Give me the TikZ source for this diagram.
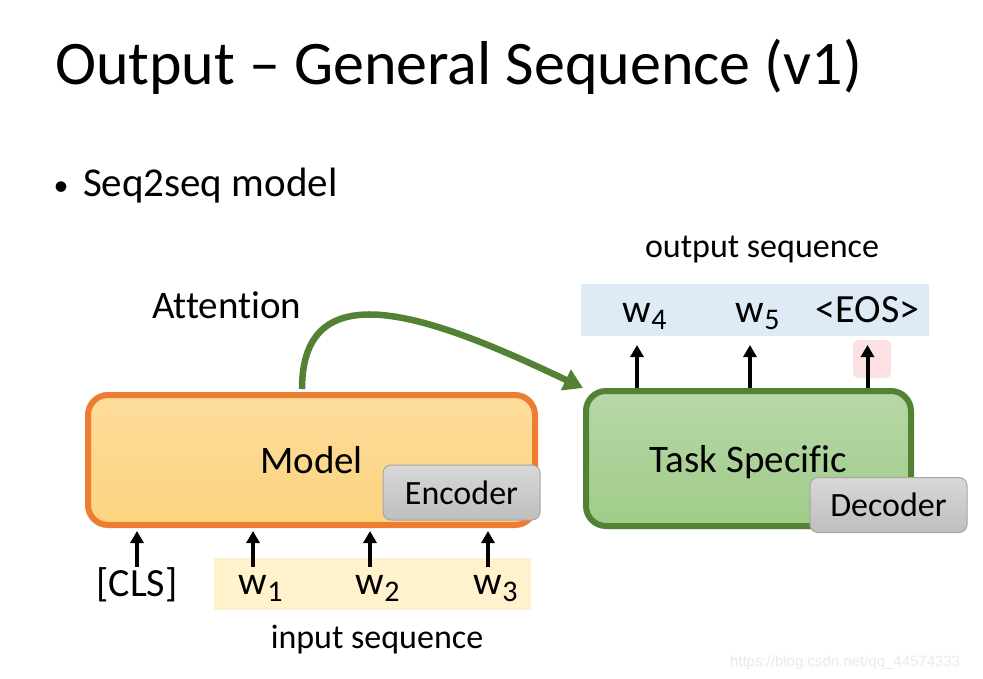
\documentclass[tikz,border=0pt]{standalone}
\usepackage{fontspec}
\setmainfont{Carlito}[Ligatures=NoCommon]
\newfontfamily\webfont{Liberation Sans}
\usetikzlibrary{arrows.meta,positioning}

\newlength{\du}
\setlength{\du}{1pt}
\newcommand{\fsz}[1]{\fontsize{#1\du}{#1\du}\selectfont}
\newcommand{\tok}[1]{w\rlap{\raisebox{-7\du}{\fsz{30}#1}}}

\definecolor{modelorange}{HTML}{ED7D31}
\definecolor{modeltop}{HTML}{FDDC9C}
\definecolor{modelbot}{HTML}{FCD47E}
\definecolor{taskgreen}{HTML}{548235}
\definecolor{tasktop}{HTML}{B7D7A8}
\definecolor{taskbot}{HTML}{A0CC88}
\definecolor{tagtop}{HTML}{D8D8D8}
\definecolor{tagbot}{HTML}{BEBEBE}
\definecolor{tagline}{HTML}{A6A6A6}
\definecolor{outblue}{HTML}{DEEBF7}
\definecolor{inyellow}{HTML}{FFF2CC}
\definecolor{eospink}{HTML}{FBE1E1}
\definecolor{markgray}{HTML}{EAEAEA}

\tikzset{
  txt/.style={inner sep=0pt, outer sep=0pt},
  band/.style={inner sep=0pt, outer sep=0pt, draw=none},
  bigbox/.style={rounded corners=20\du, line width=6\du, inner sep=0pt, text depth=0pt, font=\fsz{39}},
  tagbox/.style={rounded corners=8\du, line width=1\du, draw=tagline, top color=tagtop, bottom color=tagbot,
    inner sep=0pt, minimum width=157\du, minimum height=55\du, font=\fsz{34}},
  tokword/.style={anchor=base, inner sep=0pt, font=\fsz{40}},
  tokarrow/.style={line width=4\du, -{Triangle[length=12pt,width=13pt]}},
  attnarrow/.style={line width=6.5\du, draw=taskgreen, -{Triangle[length=19pt,width=22pt]}}
}

\begin{document}
\begin{tikzpicture}
\pgftransformxscale{1.000000}
\pgftransformyscale{-1.000000}
\fill[white] (0\du,0\du) rectangle (983\du,679\du);
\useasboundingbox (0\du,0\du) rectangle (983\du,679\du);

% heading
\node[txt, anchor=base west] (title) at (55\du,85\du) {\fsz{62}Output – General Sequence (v1)};
\node[txt, anchor=base] (dot) at (61\du,196\du) {\fsz{30}•};
\node[txt, anchor=base west] (bullet) at (83\du,197\du) {\fsz{41}Seq2seq model};

\node[band, fill=outblue, minimum width=348\du, minimum height=52\du] (outband) at (755\du,310\du) {};
\node[band, fill=inyellow, minimum width=317\du, minimum height=52\du] (inband) at (372.5\du,584\du) {};
\node[band, fill=eospink, rounded corners=5\du, minimum size=38\du] (eosmark) at (872\du,359\du) {};

\node[bigbox, draw=modelorange, top color=modeltop, bottom color=modelbot,
  minimum width=447\du, minimum height=130\du] (model) at (311.5\du,460\du) {Model};
\node[tagbox] (enc) at (461.5\du,492.5\du) {Encoder};
\node[bigbox, draw=taskgreen, top color=tasktop, bottom color=taskbot,
  minimum width=325\du, minimum height=135\du] (task) at (748.5\du,458.5\du) {Task Specific};
\node[tagbox] (dec) at (888.5\du,505\du) {Decoder};

\node[txt, anchor=base] (outlbl) at (762\du,258\du) {\fsz{34}output sequence};
\node[tokword] (o1) at (637\du,322\du) {\tok{4}};
\node[tokword] (o2) at (750\du,322\du) {\tok{5}};
\node[tokword] (o3) at (867.5\du,322\du) {<EOS>};

\node[tokword] (cls) at (137\du,596\du) {[CLS]};
\node[tokword] (i1) at (253\du,594\du) {\tok{1}};
\node[tokword] (i2) at (370\du,594\du) {\tok{2}};
\node[tokword] (i3) at (488\du,594\du) {\tok{3}};
\node[txt, anchor=base] (inlbl) at (377\du,648\du) {\fsz{34}input sequence};

\foreach \w in {o1,o2,o3}
  \draw[tokarrow, shorten >=9\du] (task.north -| \w) -- (outband.south -| \w);
\foreach \w in {cls,i1,i2,i3}
  \draw[tokarrow, shorten <=-9\du, shorten >=3\du] (inband.north -| \w) -- (model.south -| \w);

\node[txt, anchor=base west] (attlbl) at (152\du,319\du) {\fsz{39}Attention};
\coordinate (attsrc) at (302\du,389\du);
\draw[attnarrow] (attsrc) .. controls (302\du,265\du) and (440\du,320\du) .. (task.north west);

\node[txt, anchor=base west, text=markgray] (mark) at (730\du,666\du) {\webfont\fsz{15}https://blog.csdn.net/qq\_44574333};
\end{tikzpicture}
\end{document}
